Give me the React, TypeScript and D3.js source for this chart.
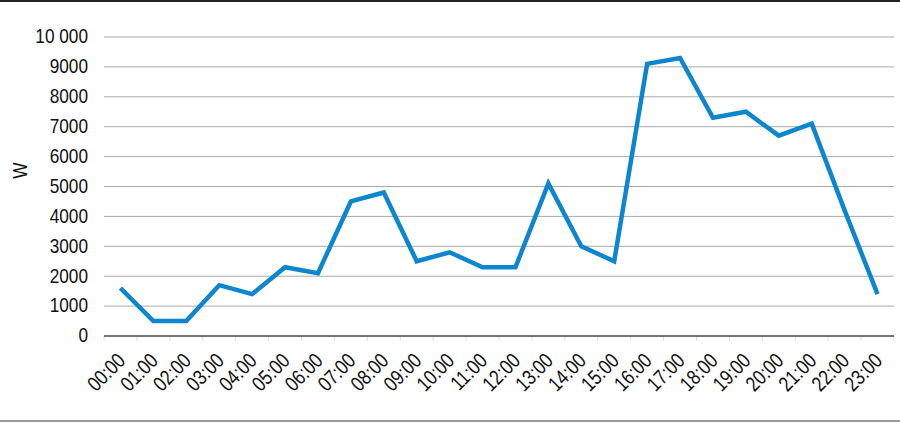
import React from "react";
import * as d3 from "d3";

const hours = ["00:00","01:00","02:00","03:00","04:00","05:00","06:00","07:00","08:00","09:00","10:00","11:00","12:00","13:00","14:00","15:00","16:00","17:00","18:00","19:00","20:00","21:00","22:00","23:00"];
const watts = [1600,500,500,1700,1400,2300,2100,4500,4800,2500,2800,2300,2300,5100,3000,2500,9100,9300,7300,7500,6700,7100,4200,1400];
const yTicks = [0,1000,2000,3000,4000,5000,6000,7000,8000,9000,10000];
const yLabel = "W";

const W = 900, H = 423;
const left = 104, right = 894, top = 37, bottom = 336;
const font = "'Liberation Sans', Arial, sans-serif";
const fs = 21;
const sx = 0.82;

export default function App() {
  const x = d3.scaleBand<string>().domain(hours).range([left, right]);
  const y = d3.scaleLinear().domain([0, 10000]).range([bottom, top]);
  const line = d3.line<number>().x((_, i) => (x(hours[i]) as number) + x.bandwidth() / 2).y(d => y(d));
  const fmt = (v: number) => (v >= 10000 ? d3.format(",")(v).replace(/,/g, " ") : String(v));
  const boundaries = d3.range(hours.length + 1).map(i => left + i * x.step());
  return (
    <svg width={W} height={H} style={{ position: "absolute", left: 0, top: 0, background: "#fff" }}>
      <rect x={0} y={0} width={W} height={H} fill="#fff" />
      <line x1={0} x2={W} y1={1} y2={1} stroke="#222" strokeWidth={2} />
      <line x1={0} x2={W} y1={421} y2={421} stroke="#999" strokeWidth={2} />
      {yTicks.map(t => (
        <g key={t}>
          {t > 0 && <line x1={left} x2={right} y1={y(t)} y2={y(t)} stroke="#aaa" strokeWidth={1} />}
          <text transform={`translate(88,${y(t)}) scale(${sx},1)`} dy="0.3em" textAnchor="end" fontFamily={font} fontSize={fs} fill="#111">{fmt(t)}</text>
        </g>
      ))}
      {boundaries.map((b, i) => (
        <line key={i} x1={b} x2={b} y1={bottom} y2={bottom + 5} stroke="#ddd" strokeWidth={1} />
      ))}
      <line x1={left} x2={right} y1={bottom} y2={bottom} stroke="#444" strokeWidth={1.5} />
      <text transform={`translate(27,170.5) rotate(-90) scale(${sx},1)`} textAnchor="middle" fontFamily={font} fontSize={fs} fill="#111">{yLabel}</text>
      {hours.map(h => {
        const cx = (x(h) as number) + x.bandwidth() / 2;
        return (
          <text key={h} transform={`translate(${cx + 6},362) rotate(-45) scale(${sx},1)`} textAnchor="end" fontFamily={font} fontSize={fs} fill="#111">{h}</text>
        );
      })}
      <path d={line(watts) || ""} fill="none" stroke="#0b86cf" strokeWidth={4.5} strokeLinejoin="miter" />
    </svg>
  );
}
